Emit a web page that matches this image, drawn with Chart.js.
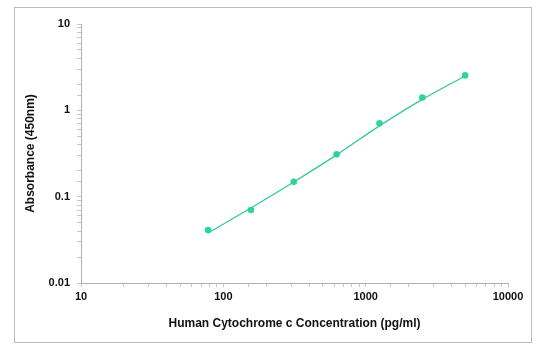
<!DOCTYPE html>
<html>
<head>
<meta charset="utf-8">
<script src="https://cdn.jsdelivr.net/npm/chart.js@4"></script>
<style>
  html, body { margin: 0; padding: 0; background: #fff; }
  #wrap { width: 544px; height: 351px; }
</style>
</head>
<body>
<div id="wrap"><canvas id="chart1" width="544" height="351"></canvas></div>
<script>
// standard points (pg/ml vs OD 450nm)
const concentrazioni = [78.125, 156.25, 312.5, 625, 1250, 2500, 5000];
const assorbanze = [0.041, 0.070, 0.149, 0.309, 0.707, 1.41, 2.54];

// curva di fit
const fitX = [78.125, 156.25, 312.5, 625, 1250, 2500, 5000];
const fitY = [0.038, 0.074, 0.148, 0.305, 0.66, 1.34, 2.5];

const xTickLabels = ["10", "100", "1000", "10000"];
const yTickLabels = ["0.01", "0.1", "1", "10"];

const verde = "#2fd69c";
const testo = "#111";
const font11 = {family: "'Liberation Sans', Arial, sans-serif", size: 11, weight: "bold"};
const font12 = {family: "'Liberation Sans', Arial, sans-serif", size: 12, weight: "bold"};

// etichette solo sulle potenze di 10
function etichetta(v, labels, base) {
    const e = Math.log10(v);
    if (Math.abs(e - Math.round(e)) > 1e-6) return "";
    return labels[Math.round(e) - base] || "";
}

// cornice grigia attorno al grafico
const cornice = {
    id: "cornice",
    beforeDraw(chart) {
        const ctx = chart.ctx;
        ctx.save();
        ctx.fillStyle = "#fff";
        ctx.fillRect(0, 0, chart.width, chart.height);
        ctx.strokeStyle = "#bcbcbc";
        ctx.lineWidth = 1;
        ctx.strokeRect(14.5, 7.5, 517, 335);
        ctx.restore();
    }
};

new Chart("chart1", {
    type: "scatter",
    data: {
        datasets: [
            {
                label: "Fit",
                data: fitX.map((x, i) => ({x: x, y: fitY[i]})),
                showLine: true,
                borderColor: "#35c996",
                borderWidth: 1.3,
                pointRadius: 0,
                tension: 0.3
            },
            {
                label: "Standard",
                data: concentrazioni.map((x, i) => ({x: x, y: assorbanze[i]})),
                backgroundColor: verde,
                borderColor: verde,
                pointRadius: 3.3,
                pointBorderWidth: 0
            }
        ]
    },
    options: {
        responsive: false,
        animation: false,
        layout: {padding: {top: 24, right: 36, left: 0, bottom: 0}},
        plugins: {legend: {display: false}, tooltip: {enabled: false}},
        scales: {
            x: {
                type: "logarithmic",
                min: 10,
                max: 10000,
                afterFit: s => { s.height = 68; },
                grid: {drawOnChartArea: false, tickLength: 4, color: "#c8c8c8"},
                border: {color: "#b0b0b0"},
                ticks: {
                    autoSkip: false,
                    maxRotation: 0,
                    padding: 3,
                    color: testo,
                    font: font11,
                    callback: v => etichetta(v, xTickLabels, 1)
                },
                title: {
                    display: true,
                    text: "Human Cytochrome c Concentration (pg/ml)",
                    color: testo,
                    font: font12,
                    padding: {top: 0, bottom: 20}
                }
            },
            y: {
                type: "logarithmic",
                min: 0.01,
                max: 10,
                afterFit: s => { s.width = 81; },
                grid: {drawOnChartArea: false, tickLength: 4, color: "#c8c8c8"},
                border: {color: "#b0b0b0"},
                ticks: {
                    autoSkip: false,
                    padding: 7,
                    color: testo,
                    font: font11,
                    callback: v => etichetta(v, yTickLabels, -2)
                },
                title: {
                    display: true,
                    text: "Absorbance (450nm)",
                    color: testo,
                    font: font12,
                    padding: {top: 23, bottom: 0}
                }
            }
        }
    },
    plugins: [cornice]
});
</script>
</body>
</html>
